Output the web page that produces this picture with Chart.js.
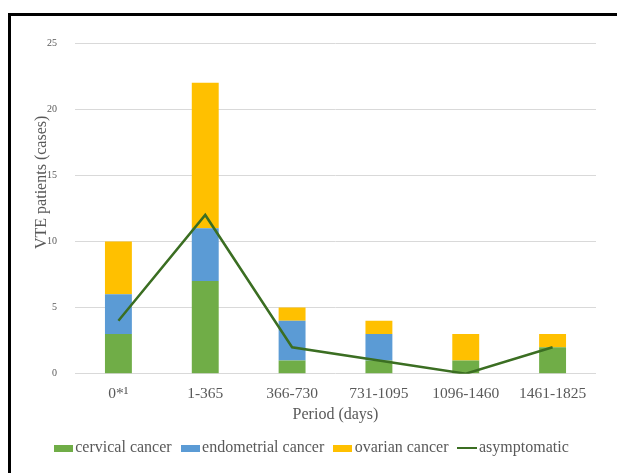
<!DOCTYPE html>
<html>
<head>
<meta charset="utf-8">
<script src="https://cdn.jsdelivr.net/npm/chart.js@4"></script>
<style>
    html, body { margin: 0; padding: 0; background: #fff; }
    #wrap { position: relative; width: 617px; height: 473px; overflow: hidden; }
    #frame {
        position: absolute; left: 8px; top: 13px; right: -10px; bottom: -10px;
        border-top: 3px solid #000; border-left: 3px solid #000;
        pointer-events: none;
    }
    canvas { position: absolute; left: 0; top: 0; }
</style>
</head>
<body>
<div id="wrap">
    <canvas id="vteChart" width="617" height="473"></canvas>
    <div id="frame"></div>
</div>
<script>
// Periods after diagnosis and VTE cases per cancer type
var periods = ['0*\u00b9', '1-365', '366-730', '731-1095', '1096-1460', '1461-1825'];
var cervical = [3, 7, 1, 1, 1, 2];
var endometrial = [3, 4, 3, 2, 0, 0];
var ovarian = [4, 11, 1, 1, 2, 1];
var asymptomatic = [4, 12, 2, 1, 0, 2];
var yTicks = [0, 5, 10, 15, 20, 25];

var serif = "'Liberation Serif', 'Times New Roman', serif";
var textGray = '#595959';
var colors = ['#70AD47', '#5B9BD5', '#FFC000', '#3B6E22'];

// small legend swatches (excel style: wide box, line for the line series)
function swatch(color, w, h) {
    var c = document.createElement('canvas');
    c.width = w;
    c.height = h;
    var g = c.getContext('2d');
    g.fillStyle = color;
    g.fillRect(0, 0, w, h);
    return c;
}
var swatches = [
    swatch(colors[0], 19, 7),
    swatch(colors[1], 19, 7),
    swatch(colors[2], 19, 7),
    swatch(colors[3], 20, 2)
];

document.addEventListener('DOMContentLoaded', function () {
    var ctx = document.getElementById('vteChart');
    new Chart(ctx, {
        type: 'bar',
        data: {
            labels: periods,
            datasets: [{
                label: 'cervical cancer',
                data: cervical,
                backgroundColor: colors[0],
                borderWidth: 0,
                stack: 'vte',
                order: 1
            }, {
                label: 'endometrial cancer',
                data: endometrial,
                backgroundColor: colors[1],
                borderWidth: 0,
                stack: 'vte',
                order: 1
            }, {
                label: 'ovarian cancer',
                data: ovarian,
                backgroundColor: colors[2],
                borderWidth: 0,
                stack: 'vte',
                order: 1
            }, {
                type: 'line',
                label: 'asymptomatic',
                data: asymptomatic,
                borderColor: colors[3],
                backgroundColor: colors[3],
                borderWidth: 2.5,
                pointRadius: 0,
                tension: 0,
                order: 0
            }]
        },
        options: {
            responsive: false,
            animation: false,
            layout: {
                padding: { left: 32, right: 21, top: 43, bottom: 7 }
            },
            datasets: {
                bar: { categoryPercentage: 1, barPercentage: 0.31 }
            },
            plugins: {
                legend: {
                    position: 'bottom',
                    labels: {
                        usePointStyle: true,
                        pointStyleWidth: 8,
                        boxHeight: 8,
                        padding: 14.5,
                        color: textGray,
                        font: { family: serif, size: 16 },
                        generateLabels: function (chart) {
                            var items = Chart.defaults.plugins.legend.labels.generateLabels(chart);
                            items.forEach(function (it) {
                                it.pointStyle = swatches[it.datasetIndex];
                                it.lineWidth = 0;
                            });
                            return items;
                        },
                        sort: function (a, b) { return a.datasetIndex - b.datasetIndex; }
                    }
                },
                tooltip: { enabled: false }
            },
            scales: {
                x: {
                    stacked: true,
                    grid: { display: false },
                    border: { display: false },
                    ticks: { color: textGray, font: { family: serif, size: 15.5 }, padding: 3 },
                    title: {
                        display: true,
                        text: 'Period (days)',
                        color: textGray,
                        font: { family: serif, size: 16 },
                        padding: { top: -1, bottom: 1 }
                    }
                },
                y: {
                    stacked: true,
                    min: 0,
                    max: 25,
                    afterBuildTicks: function (scale) {
                        scale.ticks = yTicks.map(function (v) { return { value: v }; });
                    },
                    afterFit: function (scale) { scale.width = 43; },
                    grid: { color: '#D9D9D9', drawTicks: false },
                    border: { display: false },
                    ticks: { color: textGray, font: { family: serif, size: 10 }, padding: 18 },
                    title: {
                        display: true,
                        // leading spaces lift the title a little, like the original
                        text: '\u00a0\u00a0\u00a0\u00a0\u00a0\u00a0\u00a0\u00a0\u00a0\u00a0\u00a0\u00a0\u00a0VTE patients (cases)',
                        color: textGray,
                        font: { family: serif, size: 16 },
                        padding: { top: 0, bottom: 0 }
                    }
                }
            }
        }
    });
});
</script>
</body>
</html>
